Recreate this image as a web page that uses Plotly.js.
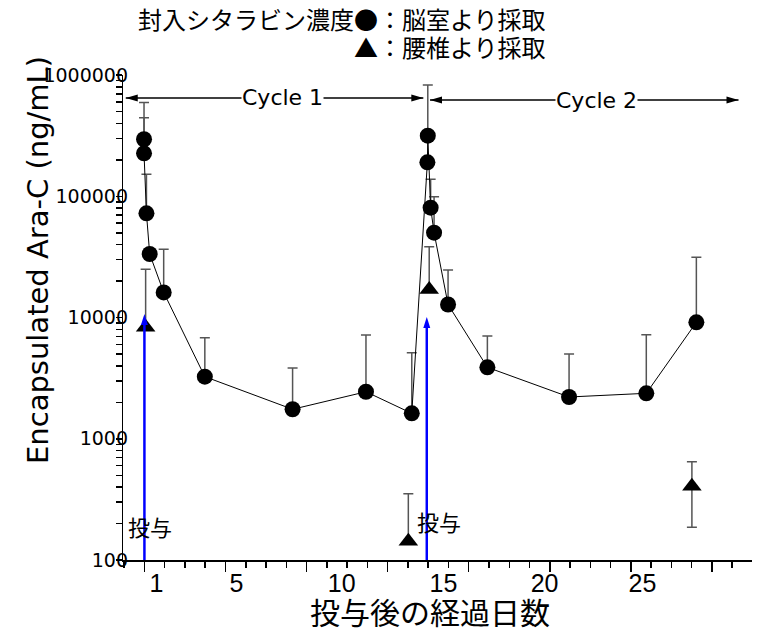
<!DOCTYPE html>
<html><head><meta charset="utf-8">
<script src="https://cdn.plot.ly/plotly-3.0.1.min.js"></script>
<style>html,body{margin:0;padding:0;background:#fff}#chart{width:761px;height:634px}</style>
</head><body><div id="chart"></div>
<script>
// 脳室より採取 (circles)
const ventDays  = [0.38, 0.38, 0.50, 0.66, 1.35, 3.38, 7.71, 11.33, 13.59, 14.36, 14.38, 14.52, 14.69, 15.38, 17.32, 21.35, 25.16, 27.63];
const ventConc  = [295000, 226000, 72300, 33400, 16100, 3250, 1750, 2440, 1620, 190600, 316000, 80500, 50100, 12800, 3880, 2210, 2370, 9130];
const ventUpper = [592000, 444000, 152000, 33400, 36500, 6810, 3830, 7170, 5130, 190600, 827000, 138000, 99100, 24600, 7040, 5000, 7210, 31400];
// 腰椎より採取 (triangles)
const lumbDays  = [0.46, 13.42, 14.45, 27.41];
const lumbConc  = [8300, 143, 17050, 406];
const lumbUpper = [25000, 352, 38400, 647];
const lumbLower = [8300, 143, 17050, 186];
// dosing days
const doseDays = [0.40, 14.33];
// axis ticks
const xMajorTicks = [0.4, 4.4, 8.4, 12.4, 16.4, 20.4, 24.4, 28.4];
const xLabelPos   = [0.99, 4.94, 10.13, 15.15, 20.14, 24.97];
const xLabelText  = ['1', '5', '10', '15', '20', '25'];
const yDecades    = [100, 1000, 10000, 100000, 1000000];
const yDecadeText = ['100', '1000', '10000', '100000', '1000000'];
const yMinorDigits = [2, 3, 4, 5, 6, 7, 8, 9];

const xRange = [-0.657, 30.375];
const yTickAll = [];
yDecades.forEach((d, i) => {
  yTickAll.push(d);
  if (i < yDecades.length - 1) yMinorDigits.forEach(m => yTickAll.push(d * m));
});

const errColor = '#555';
const traces = [
  {
    x: ventDays, y: ventConc, type: 'scatter', mode: 'lines+markers',
    line: {color: 'black', width: 1},
    marker: {symbol: 'circle', size: 16, color: 'black'},
    error_y: {type: 'data', symmetric: false,
      array: ventUpper.map((u, i) => u - ventConc[i]),
      arrayminus: ventConc.map(() => 0),
      color: errColor, thickness: 1.5, width: 5},
    showlegend: false, hoverinfo: 'skip'
  },
  {
    x: lumbDays, y: lumbConc, type: 'scatter', mode: 'markers',
    marker: {symbol: 'triangle-up', size: 17, color: 'black'},
    error_y: {type: 'data', symmetric: false,
      array: lumbUpper.map((u, i) => u - lumbConc[i]),
      arrayminus: lumbLower.map((l, i) => lumbConc[i] - l),
      color: errColor, thickness: 1.5, width: 5},
    showlegend: false, hoverinfo: 'skip'
  },
  {x: [], y: [], xaxis: 'x2', yaxis: 'y2', type: 'scatter', showlegend: false}
];

// helpers for arrows (yref paper, pixel-size heads)
function headShape(xd, py, dir, color) {
  const paths = {
    right: 'M0,0 L-12,3.5 L-12,-3.5 Z',
    left: 'M0,0 L12,3.5 L12,-3.5 Z',
    up: 'M0,0 L-3.5,-11 L3.5,-11 Z'
  };
  return {type: 'path', xref: 'x', yref: 'paper', xsizemode: 'pixel', ysizemode: 'pixel',
    xanchor: xd, yanchor: py, path: paths[dir], fillcolor: color, line: {width: 0}};
}
const shapes = [];
function hArrow(x0, x1, py) {
  shapes.push({type: 'line', xref: 'x', yref: 'paper', x0: x0, x1: x1, y0: py, y1: py, line: {color: 'black', width: 1.5}});
  shapes.push(headShape(x0, py, 'left', 'black'));
  shapes.push(headShape(x1, py, 'right', 'black'));
}
hArrow(-0.52, 14.16, 0.9526);
hArrow(14.49, 29.71, 0.9485);
const blueTips = [0.5072, 0.501];
doseDays.forEach((d, i) => {
  shapes.push({type: 'line', xref: 'x', yref: 'paper', x0: d, x1: d, y0: 0, y1: blueTips[i] - 0.02, line: {color: '#0000ff', width: 2.5}});
  shapes.push(headShape(d, blueTips[i], 'up', '#0000ff'));
});

const jp = 'Noto Sans CJK JP';
const annotations = [
  {text: '封入シタラビン濃度●：脳室より採取', xref: 'paper', yref: 'paper', x: 0.6757, y: 1.1175, xanchor: 'right', yanchor: 'middle', showarrow: false, font: {family: jp, size: 24, color: 'black'}},
  {text: '▲：腰椎より採取', xref: 'paper', yref: 'paper', x: 0.6757, y: 1.0578, xanchor: 'right', yanchor: 'middle', showarrow: false, font: {family: jp, size: 24, color: 'black'}},
  {text: 'Encapsulated Ara-C (ng/mL)', xref: 'paper', yref: 'paper', x: -0.1351, y: 0.6186, xanchor: 'center', yanchor: 'middle', textangle: -90, showarrow: false, font: {family: 'DejaVu Sans', size: 29, color: 'black'}},
  {text: '投与後の経過日数', xref: 'paper', yref: 'paper', x: 0.488, y: -0.1052, xanchor: 'center', yanchor: 'middle', showarrow: false, font: {family: jp, size: 30, color: 'black'}},
  {text: '投与', xref: 'x', yref: 'paper', x: 0.66, y: 0.0701, xanchor: 'center', yanchor: 'middle', showarrow: false, font: {family: jp, size: 22, color: 'black'}},
  {text: '投与', xref: 'x', yref: 'paper', x: 14.93, y: 0.0804, xanchor: 'center', yanchor: 'middle', showarrow: false, font: {family: jp, size: 22, color: 'black'}},
  {text: 'Cycle 1', xref: 'x', yref: 'paper', x: 7.22, y: 0.9546, xanchor: 'center', yanchor: 'middle', showarrow: false, bgcolor: 'white', borderpad: 0, font: {family: 'DejaVu Sans', size: 22, color: 'black'}},
  {text: 'Cycle 2', xref: 'x', yref: 'paper', x: 22.7, y: 0.9464, xanchor: 'center', yanchor: 'middle', showarrow: false, bgcolor: 'white', borderpad: 0, font: {family: 'DejaVu Sans', size: 22, color: 'black'}}
];

const layout = {
  width: 761, height: 634,
  font: {family: 'DejaVu Sans', size: 19, color: 'black'},
  margin: {l: 123, r: 9, t: 75, b: 74, pad: 0},
  paper_bgcolor: 'white', plot_bgcolor: 'white',
  showlegend: false,
  xaxis: {
    domain: [0, 1], range: xRange, showgrid: false, zeroline: false,
    showline: true, linecolor: 'black', linewidth: 1.5,
    tickmode: 'array', tickvals: xMajorTicks, showticklabels: false,
    ticks: 'outside', ticklen: 10, tickwidth: 1.5, tickcolor: 'black',
    minor: {tickmode: 'linear', tick0: 0.4, dtick: 1, ticks: 'outside', ticklen: 6, tickwidth: 1.5, tickcolor: 'black', showgrid: false}
  },
  xaxis2: {
    overlaying: 'x', anchor: 'y2', side: 'bottom', range: xRange,
    showgrid: false, zeroline: false, showline: false,
    tickmode: 'array', tickvals: xLabelPos, ticktext: xLabelText, ticks: '',
    tickfont: {family: 'Liberation Sans', size: 25, color: 'black'},
    ticklabelstandoff: 6
  },
  // data axis: carries only the decade labels, set slightly right so labels overlap the axis line
  yaxis: {
    type: 'log', range: [2, 6], showgrid: false, zeroline: false,
    anchor: 'free', position: 0.008, showline: false,
    tickmode: 'array', tickvals: yDecades, ticktext: yDecadeText,
    ticks: '', tickfont: {family: 'DejaVu Sans', size: 19, color: 'black'}
  },
  // overlay axis: line and tick marks
  yaxis2: {
    type: 'log', range: [2, 6], overlaying: 'y', anchor: 'x', side: 'left',
    showgrid: false, zeroline: false, showline: true, linecolor: 'black', linewidth: 1.5,
    tickmode: 'array', tickvals: yTickAll, showticklabels: false,
    ticks: 'outside', ticklen: 6, tickwidth: 1.5, tickcolor: 'black'
  },
  shapes: shapes,
  annotations: annotations
};

Plotly.newPlot('chart', traces, layout, {staticPlot: true, displayModeBar: false});
</script>
</body></html>
